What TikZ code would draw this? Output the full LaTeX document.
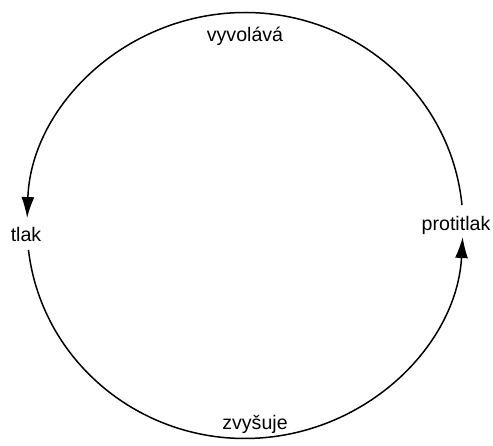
\documentclass[tikz,border=0pt]{standalone}
\usepackage{fontspec}
\setmainfont{Liberation Sans}
\usetikzlibrary{arrows.meta}
\begin{document}
\begin{tikzpicture}[x=0.5pt, y=0.5pt, >={Latex[length=10.5pt,width=6.5pt]}, line width=0.75pt,
  every node/.style={font=\fontsize{9.8}{11}\selectfont, inner sep=0pt}]
  \useasboundingbox (0,0) rectangle (493,445);
  % popisky
  \node (vyvolava) at (245,408.5) {vyvolává};
  \node (zvysuje) at (255,20.5) {zvyšuje};
  \node (tlak) at (26,210.5) {tlak};
  \node (protitlak) at (456,219.5) {protitlak};

  % konce oblouku (elipsa se stredem (245,219.5), poloosy 218 a 213)
  \coordinate (horniZ) at ({245+218*cos(5.5)},{219.5+213*sin(5.5)});
  \coordinate (dolniZ) at ({245+218*cos(186.6)},{219.5+213*sin(186.6)});

  % horni oblouk: protitlak -> tlak
  \draw[->] (horniZ) arc[start angle=5.5, end angle=178, x radius=218, y radius=213];
  % dolni oblouk: tlak -> protitlak
  \draw[->] (dolniZ) arc[start angle=186.6, end angle=356.9, x radius=218, y radius=213];
\end{tikzpicture}
\end{document}
